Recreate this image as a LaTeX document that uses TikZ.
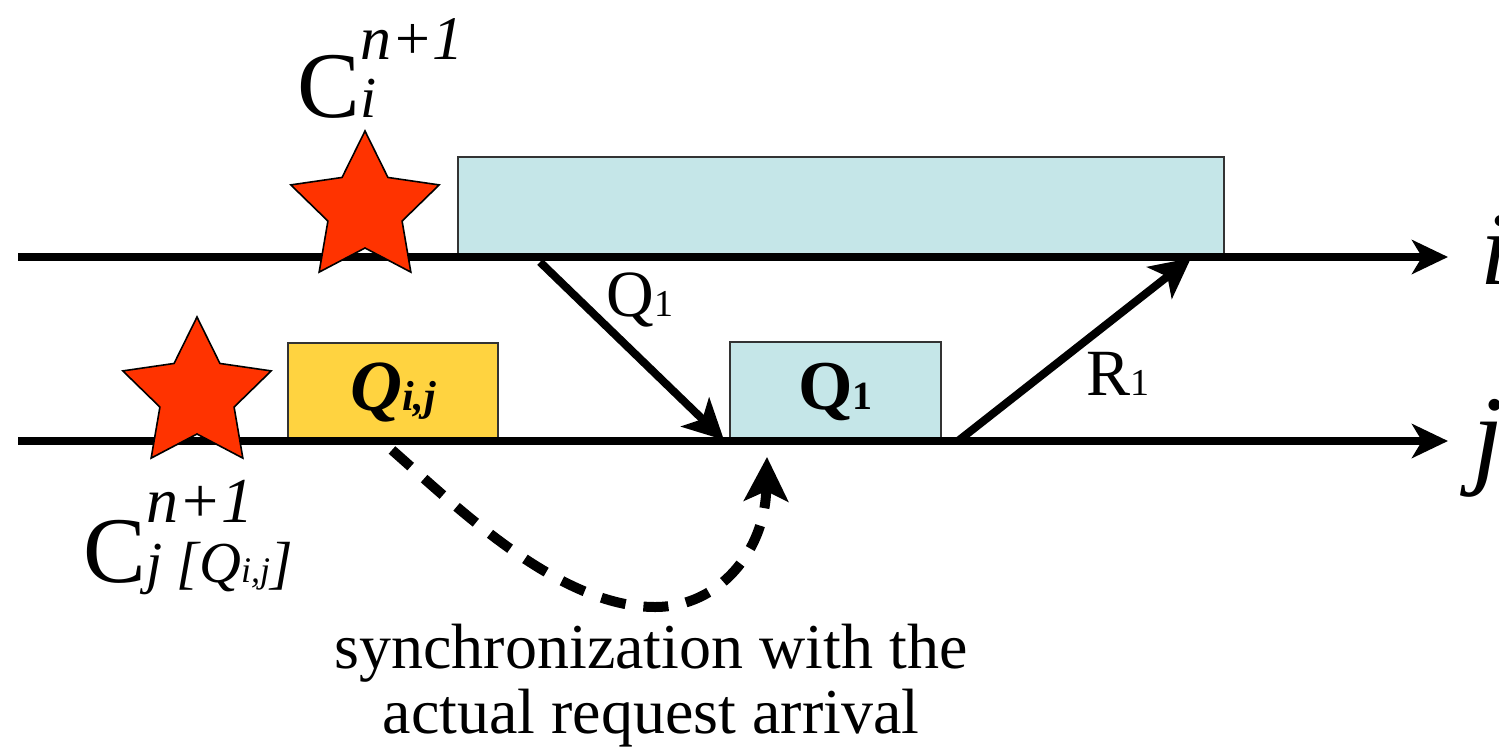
\documentclass[tikz,border=0pt]{standalone}
\usepackage{fontspec}
\setmainfont{Liberation Serif}
\usetikzlibrary{shapes.geometric,arrows.meta}
\definecolor{boxcyan}{RGB}{197,230,232}
\definecolor{boxyellow}{RGB}{255,211,64}
\definecolor{starred}{RGB}{255,51,0}
\newcommand\fsz[1]{\fontsize{#1}{#1}\selectfont}

\begin{document}
\begin{tikzpicture}[x=0.5pt,y=-0.5pt,
  axis/.style={line width=4pt,-{Stealth[length=18pt,width=17pt,inset=5pt]}},
  msg/.style={line width=4pt,-{Stealth[length=20pt,width=20pt,inset=5pt]}},
  sync/.style={line width=5pt,dash pattern=on 12.5pt off 9pt,-{Stealth[length=22pt,width=22pt,inset=5pt]}},
  slot/.style={draw=black!80,line width=0.8pt,inner sep=0pt,minimum height=50pt},
  mark5/.style={star,star points=5,star point ratio=2,minimum size=78pt,inner sep=0pt,
    draw=black,line width=0.8pt,fill=starred},
  lbl/.style={inner sep=0pt,anchor=base west},
]
\useasboundingbox (0,0) rectangle (1499,750);

% time slots on the two processes
\node[slot,fill=boxcyan,minimum width=383pt] (big) at (841,207) {};
\node[slot,fill=boxyellow,minimum width=105pt,minimum height=49pt] (qij) at (393,392)
  {\fsz{36}\bfseries\itshape Q{\fsz{21}i,j}};
\node[slot,fill=boxcyan,minimum width=105.5pt,minimum height=49.5pt] (qone) at (835.5,391.5)
  {\fsz{35}\bfseries Q{\fsz{20}1}};

% time lines of processes i and j
\coordinate (iL) at (18,257);
\coordinate (iR) at (1448,257);
\coordinate (jL) at (18,441);
\coordinate (jR) at (1448,441);
\draw[axis] (iL) -- (iR);
\draw[axis] (jL) -- (jR);
\node[lbl] (pi) at (1480,284) {\fsz{52}\itshape i};
\node[lbl] (pj) at (1472,473) {\fsz{56}\itshape j};

% checkpoints
\node[mark5] (sti) at (365,209) {};
\node[mark5] (stj) at (197,395) {};
\node[lbl] (ci) at (297,117)
  {\fsz{47}C\rlap{\raisebox{29pt}{\fsz{31}\itshape n+1}}{\fsz{29}\itshape i}};
\node[lbl] (cj) at (83,582)
  {\fsz{47}C\rlap{\raisebox{30pt}{\fsz{32}\itshape n+1}}{\fsz{29}\itshape j [Q{\fsz{18}i,j}]}};

% request and reply messages
\coordinate (qs) at (540,262);
\coordinate (qe) at (724,440);
\coordinate (rs) at (958,441);
\coordinate (re) at (1191,258);
\draw[msg] (qs) -- (qe);
\draw[msg] (rs) -- (re);
\node[lbl] (lq) at (606,316) {\fsz{33}Q{\fsz{19}1}};
\node[lbl] (lr) at (1086,395) {\fsz{33}R{\fsz{19}1}};

% synchronization of the forced checkpoint with the real arrival
\coordinate (ds) at (392,450);
\coordinate (dm) at (655,607);
\coordinate (de) at (767,457);
\draw[sync] (ds) .. controls (460,510) and (560,607) .. (dm)
  .. controls (720,607) and (765,550) .. (de);
\node[align=center,inner sep=0pt,font=\fontsize{32}{32.5}\selectfont] (note) at (651,686)
  {synchronization with the\\actual request arrival};
\end{tikzpicture}
\end{document}
